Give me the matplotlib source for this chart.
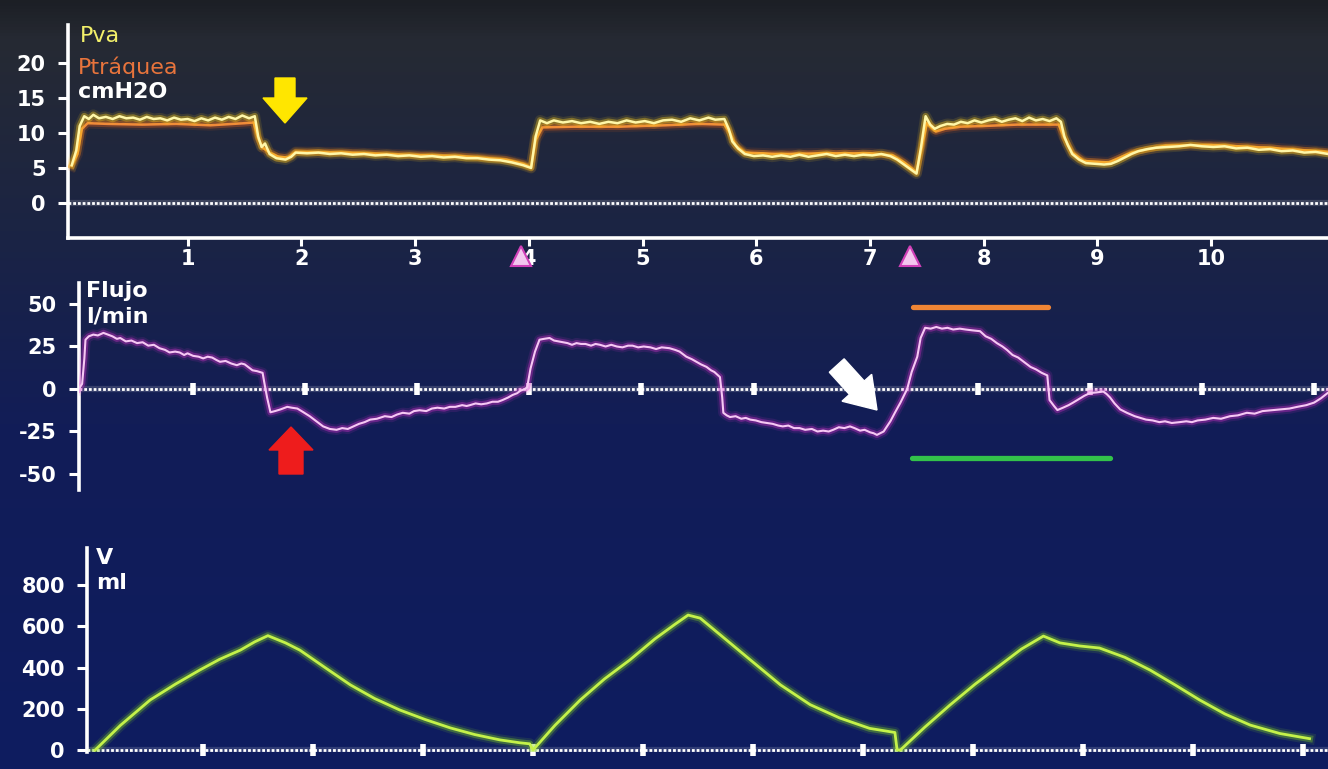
import numpy as np
import matplotlib
matplotlib.use("Agg")
import matplotlib.pyplot as plt
from matplotlib.patches import Polygon
from matplotlib.colors import LinearSegmentedColormap

# ---------------- DATA ----------------
# Pressure panel (cmH2O) vs time (s)
t_pva = [-0.02, 0.02, 0.05, 0.09, 0.13, 0.17, 0.22, 0.28, 0.34, 0.40, 0.46, 0.52, 0.58, 0.64, 0.70,
         0.76, 0.82, 0.88, 0.94, 1.00, 1.06, 1.12, 1.18, 1.24, 1.30, 1.36, 1.42, 1.48, 1.54, 1.59,
         1.62, 1.65, 1.68, 1.72, 1.78, 1.86, 1.91, 1.95, 2.05, 2.15, 2.25, 2.35, 2.45, 2.55, 2.65,
         2.75, 2.85, 2.95, 3.05, 3.15, 3.25, 3.35, 3.45, 3.55, 3.65, 3.75, 3.85, 3.95, 4.02, 4.06,
         4.10, 4.16, 4.22, 4.30, 4.38, 4.46, 4.54, 4.62, 4.70, 4.78, 4.86, 4.94, 5.02, 5.10, 5.18,
         5.26, 5.34, 5.42, 5.50, 5.58, 5.64, 5.72, 5.76, 5.79, 5.84, 5.90, 5.98, 6.06, 6.14, 6.22,
         6.30, 6.38, 6.46, 6.54, 6.62, 6.70, 6.78, 6.86, 6.94, 7.02, 7.10, 7.18, 7.24, 7.30, 7.36,
         7.41, 7.45, 7.49, 7.53, 7.57, 7.62, 7.68, 7.74, 7.80, 7.86, 7.92, 7.98, 8.04, 8.10, 8.16,
         8.22, 8.28, 8.34, 8.40, 8.46, 8.52, 8.58, 8.64, 8.68, 8.71, 8.74, 8.78, 8.84, 8.90, 8.98,
         9.06, 9.12, 9.18, 9.24, 9.30, 9.36, 9.44, 9.52, 9.62, 9.72, 9.82, 9.92, 10.02, 10.12, 10.22,
         10.32, 10.42, 10.52, 10.62, 10.72, 10.82, 10.92, 11.03]
pva = [5.4, 7.5, 11.0, 12.4, 12.0, 12.6, 12.1, 12.3, 12.0, 12.4, 12.1, 12.2, 11.9, 12.3, 12.0,
       12.1, 11.8, 12.2, 11.9, 12.0, 11.7, 12.1, 11.8, 12.2, 11.9, 12.3, 12.0, 12.5, 12.1, 12.4,
       9.5, 8.0, 8.5, 7.0, 6.4, 6.2, 6.6, 7.2, 7.1, 7.2, 7.0, 7.1, 6.9, 7.0, 6.8,
       6.9, 6.7, 6.8, 6.6, 6.7, 6.5, 6.6, 6.4, 6.4, 6.2, 6.1, 5.8, 5.4, 5.0, 9.5,
       11.8, 11.4, 11.8, 11.5, 11.7, 11.4, 11.6, 11.3, 11.6, 11.4, 11.8, 11.5, 11.7, 11.4, 11.8,
       11.9, 11.6, 12.1, 11.8, 12.2, 11.9, 12.0, 10.5, 8.8, 7.8, 7.0, 6.7, 6.8, 6.6, 6.8,
       6.6, 6.9, 6.6, 6.8, 7.0, 6.7, 6.9, 6.7, 6.9, 6.8, 7.0, 6.7, 6.2, 5.5, 4.8,
       4.2, 8.0, 12.4, 11.2, 10.6, 11.0, 11.3, 11.2, 11.6, 11.4, 11.8, 11.5, 11.8, 12.0, 11.6,
       11.9, 12.1, 11.7, 12.2, 11.8, 12.0, 11.7, 12.1, 11.6, 9.5, 8.3, 7.0, 6.2, 5.7, 5.6,
       5.5, 5.6, 6.0, 6.5, 7.0, 7.4, 7.7, 7.9, 8.0, 8.1, 8.3, 8.1, 8.0, 8.1, 7.8,
       7.9, 7.6, 7.7, 7.4, 7.5, 7.2, 7.3, 7.0]

t_ptr = [-0.02, 0.03, 0.07, 0.12, 0.30, 0.60, 0.90, 1.20, 1.50, 1.58, 1.62, 1.66, 1.72, 1.80, 1.88,
         1.95, 2.40, 2.90, 3.40, 3.80, 3.95, 4.02, 4.06, 4.12, 4.40, 4.80, 5.20, 5.50, 5.72, 5.77,
         5.82, 5.90, 6.20, 6.60, 7.00, 7.20, 7.30, 7.41, 7.46, 7.50, 7.58, 7.66, 7.80, 8.00, 8.30,
         8.66, 8.71, 8.78, 8.88, 9.10, 9.30, 9.60, 10.00, 10.50, 11.03]
ptraquea = [5.3, 7.0, 10.6, 11.4, 11.3, 11.2, 11.3, 11.1, 11.4, 11.5, 9.2, 7.9, 7.2, 6.6, 6.5,
            7.3, 7.2, 6.9, 6.7, 6.2, 5.6, 5.1, 9.0, 10.8, 10.9, 10.9, 11.1, 11.3, 11.2, 10.0,
            8.2, 7.2, 7.0, 7.1, 7.1, 6.8, 5.8, 4.4, 8.2, 11.4, 10.2, 10.6, 10.9, 11.0, 11.2,
            11.2, 9.3, 7.2, 6.0, 5.8, 7.2, 8.2, 8.3, 7.9, 7.3]

# Flow panel (l/min)
t_flow = [-0.02, 0.01, 0.03,
          0.04, 0.07, 0.11, 0.15, 0.20, 0.24, 0.28, 0.32, 0.35, 0.40, 0.45, 0.50, 0.55, 0.60, 0.65,
          0.70, 0.75, 0.79, 0.84, 0.88, 0.92, 0.95, 1.00, 1.05, 1.09, 1.13, 1.17, 1.21, 1.24, 1.29,
          1.34, 1.39, 1.43, 1.46, 1.50, 1.53, 1.57, 1.62,
          1.64, 1.66, 1.69, 1.73, 1.78, 1.84, 1.88, 1.93, 1.98, 2.04, 2.10, 2.16, 2.22, 2.28, 2.33,
          2.38, 2.43, 2.48, 2.53, 2.58, 2.64, 2.71, 2.77, 2.82, 2.87, 2.93, 2.97, 3.02, 3.08, 3.13,
          3.18, 3.24, 3.29, 3.34, 3.40, 3.44, 3.47, 3.52, 3.57, 3.62, 3.67, 3.72, 3.76, 3.81, 3.85,
          3.89, 3.92, 3.96, 3.98,
          4.01, 4.05, 4.09, 4.13, 4.18, 4.22, 4.26, 4.30, 4.34, 4.38, 4.42, 4.46, 4.50, 4.55, 4.59,
          4.63, 4.68, 4.73, 4.78, 4.83, 4.88, 4.92, 4.97, 5.02, 5.08, 5.13, 5.18, 5.25, 5.30, 5.34,
          5.37, 5.40, 5.45, 5.49, 5.53, 5.58, 5.62, 5.65, 5.70,
          5.72, 5.73, 5.76, 5.79, 5.84, 5.89, 5.93, 5.97, 6.02, 6.07, 6.12, 6.17, 6.22, 6.26, 6.31,
          6.36, 6.41, 6.46, 6.52, 6.57, 6.62, 6.67, 6.71, 6.76, 6.81, 6.86, 6.90, 6.95, 6.99, 7.04,
          7.07, 7.10, 7.13, 7.16, 7.19, 7.22, 7.26, 7.31, 7.34, 7.37,
          7.41, 7.46, 7.49, 7.53, 7.58, 7.63, 7.68, 7.73, 7.78, 7.84, 7.89, 7.95, 8.02, 8.07, 8.12,
          8.17, 8.22, 8.26, 8.31, 8.36, 8.41, 8.47, 8.52, 8.57, 8.62,
          8.64, 8.68, 8.71, 8.76, 8.81, 8.85, 8.90, 8.95, 9.00, 9.06, 9.12, 9.15, 9.18, 9.22, 9.27,
          9.33, 9.40, 9.45, 9.50, 9.56, 9.62, 9.67, 9.73, 9.80, 9.86, 9.91, 9.96, 10.03, 10.10,
          10.17, 10.25, 10.32, 10.40, 10.47, 10.54, 10.62, 10.70, 10.78, 10.85, 10.93, 11.00, 11.06,
          11.12]
flujo = [0, 3, 18,
         29, 31, 32, 31.5, 33, 32, 31, 29.5, 30, 28, 28.5, 27, 27.5, 25.5, 26,
         24, 23, 21.5, 22, 21.5, 20, 21, 19.5, 19, 18, 19, 18.5, 17, 16, 16.5,
         15, 14, 15, 14.5, 12.5, 11, 10.5, 9.5,
         2, -5, -13.7, -13, -12, -10.5, -11, -11.5, -13.5, -16, -19, -22, -23.5, -24, -23,
         -23.5, -22, -20.5, -19.5, -18, -17.5, -16, -16.5, -15, -14, -14.5, -13, -12.5, -13, -11.5,
         -11, -11.5, -10.5, -10.5, -9.5, -10, -9.5, -8.5, -9, -8.5, -7.5, -7.5, -6.5, -5, -3.5,
         -2.5, -1, 0, 1,
         12, 22, 29, 29.5, 30, 28.5, 28, 27.5, 27, 26, 27, 26.5, 26.5, 25.5, 26.5,
         26, 25, 26, 25, 24.5, 25.5, 25.5, 24.5, 25, 24.5, 23.5, 24.5, 24, 23, 22,
         20.5, 19, 17.5, 16, 14.5, 13, 11, 10, 7,
         -5, -14, -15.5, -16.5, -16, -17.5, -17, -18, -18.5, -19.5, -20, -20.5, -21.5, -22, -21.5,
         -23, -23, -24, -23.5, -25, -24.5, -25, -24, -22.5, -23, -22, -23, -24.5, -24, -25.5,
         -26, -27, -26, -25, -22, -19, -14, -8, -4, 0,
         10, 19, 30, 36, 35.5, 36.5, 35.5, 36, 35, 35.5, 35, 34.5, 34, 31, 29.5,
         27, 25, 23, 20, 18.5, 16, 13, 11.5, 9.5, 8,
         -6.5, -10, -12.4, -11, -9.5, -8, -6, -4, -2.4, -2, -1.5, -3, -5, -8.5, -12,
         -14, -16, -17, -18, -18.5, -19.5, -19, -20, -19.5, -19, -19.5, -18.5, -18, -17,
         -17.5, -16, -15.5, -14, -14.5, -13, -12.5, -12, -11.5, -10.5, -9.5, -8, -5.5,
         -2.4]

# Volume panel (ml)
t_vol = [0.02, 0.25, 0.52, 0.75, 0.97, 1.15, 1.34, 1.47, 1.59, 1.75, 1.88, 2.11, 2.34, 2.56, 2.79,
         3.02, 3.25, 3.47, 3.70, 3.88, 3.97, 4.00, 4.20, 4.43, 4.65, 4.88, 5.11, 5.29, 5.41, 5.52,
         5.70, 5.97, 6.25, 6.52, 6.79, 7.06, 7.29, 7.31, 7.34, 7.56, 7.79, 8.02, 8.25, 8.44, 8.64,
         8.79, 8.97, 9.15, 9.38, 9.61, 9.84, 10.06, 10.29, 10.52, 10.79, 11.06]
volumen = [0, 120, 243, 320, 388, 440, 485, 525, 555, 520, 485, 400, 316, 250, 194,
           148, 107, 75, 49, 35, 30, 0, 120, 243, 345, 437, 540, 610, 655, 640,
           560, 440, 316, 220, 155, 105, 85, 0, 0, 110, 218, 320, 413, 490, 553,
           520, 505, 495, 450, 388, 315, 243, 175, 121, 80, 55]

x_ticks_top = [1, 2, 3, 4, 5, 6, 7, 8, 9, 10]
x_ticks_grid = [1, 2, 3, 4, 5, 6, 7, 8, 9, 10, 11]
y_ticks_p = [0, 5, 10, 15, 20]
y_ticks_f = [-50, -25, 0, 25, 50]
y_ticks_v = [0, 200, 400, 600, 800]
trigger_times = [3.93, 7.35]
# annotation bars (t_start, t_end, level)
bar_orange = ([7.42, 8.63], [48, 48])
bar_green = ([7.41, 9.18], [-40.6, -40.6])

# ---------------- FIGURE ----------------
W, H = 1328, 769
fig = plt.figure(figsize=(W / 100, H / 100), dpi=100)

bg = fig.add_axes([0, 0, 1, 1], zorder=-10)
cmap = LinearSegmentedColormap.from_list(
    "bg", [(0.0, "#1c1f25"), (0.05, "#262a33"), (0.30, "#1b2444"),
           (0.55, "#121d57"), (1.0, "#0e1c60")])
grad = np.linspace(0, 1, 256).reshape(-1, 1)
bg.imshow(grad, aspect="auto", cmap=cmap, extent=[0, 1, 0, 1], origin="upper")
bg.axis("off")


def pax(l, t, r, b):
    return fig.add_axes([l / W, 1 - b / H, (r - l) / W, (b - t) / H])


FONT = "DejaVu Sans"


def style(ax):
    ax.set_facecolor("none")
    for s in ["top", "right", "bottom"]:
        ax.spines[s].set_visible(False)
    ax.spines["left"].set_color("white")
    ax.spines["left"].set_linewidth(2.6)
    ax.tick_params(axis="y", colors="white", length=7, width=2.2, pad=9,
                   labelsize=15)


def bold_labels(labels):
    for lab in labels:
        lab.set_fontweight("bold")
        lab.set_family(FONT)


def glow_line(ax, x, y, core, glow, lw=1.6, z=5):
    ax.plot(x, y, color=glow, lw=lw + 6, alpha=0.12, solid_joinstyle="round", zorder=z)
    ax.plot(x, y, color=glow, lw=lw + 3, alpha=0.35, solid_joinstyle="round", zorder=z)
    ax.plot(x, y, color=core, lw=lw, solid_joinstyle="round", zorder=z + 0.1)


def zero_dotted(ax, z=3):
    ax.axhline(0, color="white", lw=4.5, alpha=0.15, zorder=z)
    ax.axhline(0, color="white", lw=2.0, ls=(0, (1.0, 0.7)), zorder=z)


# ---- Top: pressure ----
ax1 = pax(68, 25, 1328, 238)
ax1.set_xlim((68 - 74) / 113.7, (1328 - 74) / 113.7)
ax1.set_ylim(-5, (203 - 25) / 7)
style(ax1)
ax1.spines["bottom"].set_visible(True)
ax1.spines["bottom"].set_color("white")
ax1.spines["bottom"].set_linewidth(2.6)
ax1.set_xticks(x_ticks_top)
ax1.set_xticklabels([str(v) for v in x_ticks_top])
ax1.tick_params(axis="x", colors="white", length=6, width=2.2, pad=2, labelsize=15)
bold_labels(ax1.get_xticklabels())
ax1.set_yticks(y_ticks_p)
ax1.set_yticklabels([str(v) for v in y_ticks_p])
bold_labels(ax1.get_yticklabels())
zero_dotted(ax1)
glow_line(ax1, t_ptr, ptraquea, "#f08a3a", "#e0601a", lw=1.8, z=5)
glow_line(ax1, t_pva, pva, "#fff7a8", "#ffd21a", lw=1.8, z=6)
ax1.plot(trigger_times, [-7.6] * len(trigger_times), ls="none", marker="^",
         markersize=15, markerfacecolor="#f3c6ee", markeredgecolor="#d040b8",
         markeredgewidth=1.5, clip_on=False, zorder=8)

# ---- Middle: flow ----
ax2 = pax(79, 283, 1328, 490)
ax2.set_xlim((79 - 81) / 112.1, (1328 - 81) / 112.1)
ax2.set_ylim((389 - 490) / 1.7, (389 - 283) / 1.7)
style(ax2)
ax2.set_xticks([])
ax2.set_yticks(y_ticks_f)
ax2.set_yticklabels([str(v) for v in y_ticks_f])
bold_labels(ax2.get_yticklabels())
zero_dotted(ax2)
ax2.plot(x_ticks_grid, [0] * len(x_ticks_grid), ls="none", marker="|",
         markersize=9, markeredgewidth=4, color="white", zorder=4)
glow_line(ax2, t_flow, flujo, "#f6c8f4", "#d830cc", lw=1.5, z=5)
ax2.plot(bar_orange[0], bar_orange[1], color="#f08535", lw=3.8,
         solid_capstyle="round", zorder=7)
ax2.plot(bar_green[0], bar_green[1], color="#33c24a", lw=3.8,
         solid_capstyle="round", zorder=7)

# ---- Bottom: volume ----
ax3 = pax(87, 548, 1328, 752)
ax3.set_xlim((87 - 93) / 110, (1328 - 93) / 110)
ax3.set_ylim((750 - 752) / 0.206, (750 - 548) / 0.206)
style(ax3)
ax3.set_xticks([])
ax3.set_yticks(y_ticks_v)
ax3.set_yticklabels([str(v) for v in y_ticks_v])
bold_labels(ax3.get_yticklabels())
zero_dotted(ax3)
ax3.plot(x_ticks_grid, [0] * len(x_ticks_grid), ls="none", marker="|",
         markersize=9, markeredgewidth=4, color="white", zorder=4, clip_on=False)
glow_line(ax3, t_vol, volumen, "#c4f24a", "#86d81e", lw=2.0, z=5)

# ---- Overlay (pixel coordinates) for labels and arrows ----
ov = fig.add_axes([0, 0, 1, 1], zorder=20)
ov.set_xlim(0, W)
ov.set_ylim(H, 0)
ov.axis("off")
ov.set_facecolor("none")

ov.text(80, 36, "Pva", color="#f2f06a", fontsize=16, family=FONT, va="center", ha="left")
ov.text(78, 67, "Ptráquea", color="#e8743c", fontsize=16, family=FONT, va="center",
        ha="left")
ov.text(78, 92, "cmH2O", color="white", fontsize=16, family=FONT, fontweight="bold",
        va="center", ha="left")
ov.text(86, 291, "Flujo", color="white", fontsize=16, family=FONT, fontweight="bold",
        va="center", ha="left")
ov.text(86, 316, "l/min", color="white", fontsize=16, family=FONT, fontweight="bold",
        va="center", ha="left")
ov.text(96, 558, "V", color="white", fontsize=16, family=FONT, fontweight="bold",
        va="center", ha="left")
ov.text(96, 583, "ml", color="white", fontsize=16, family=FONT, fontweight="bold",
        va="center", ha="left")

# yellow arrow (down)
ov.add_patch(Polygon([(275, 78), (295, 78), (295, 98), (307, 98), (285, 123),
                      (263, 98), (275, 98)], closed=True, color="#ffe600", zorder=21))
# red arrow (up)
ov.add_patch(Polygon([(291, 427), (313, 450), (303, 450), (303, 474), (279, 474),
                      (279, 450), (269, 450)], closed=True, color="#ee1c1c", zorder=21))
# white arrow (down-right)
tip = np.array([877.0, 410.0])
u = np.array([0.67, 0.74]); u = u / np.linalg.norm(u)
v = np.array([-u[1], u[0]])
L, HL, HW, SW = 60, 30, 20, 10
local = [(0, SW), (L - HL, SW), (L - HL, HW), (L, 0), (L - HL, -HW), (L - HL, -SW), (0, -SW)]
start = tip - L * u
pts = [start + a * u + b * v for a, b in local]
ov.add_patch(Polygon(pts, closed=True, color="white", zorder=21))

fig.savefig("out.png", dpi=100)
